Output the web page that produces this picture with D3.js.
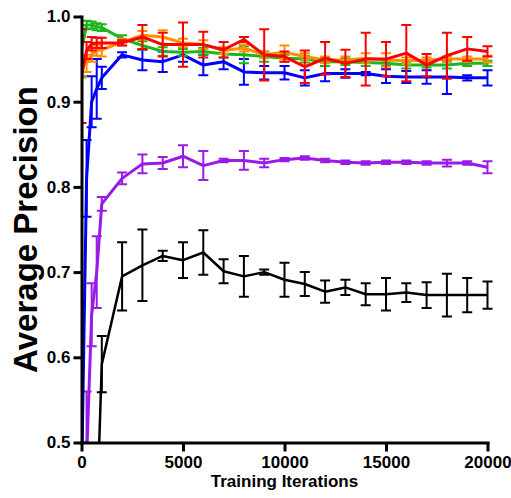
<!DOCTYPE html>
<html>
<head>
<meta charset="utf-8">
<script src="https://cdnjs.cloudflare.com/ajax/libs/d3/7.8.5/d3.min.js"></script>
<style>
    body { margin: 0; background: #fff; }
    .axis path, .axis line { stroke: #000; stroke-width: 3px; }
    .axis text { font-family: "Liberation Sans", Arial, sans-serif; font-weight: bold; font-size: 17px; fill: #000; }
    .graphLabels { font-family: "Liberation Sans", Arial, sans-serif; font-weight: bold; fill: #000; }
</style>
</head>
<body>
<div id="chart-area"></div>
<script>

// training iterations where AP was measured
var iterations = [0, 250, 500, 750, 1000, 2000, 3000, 4000, 5000, 6000, 7000, 8000, 9000, 10000,
    11000, 12000, 13000, 14000, 15000, 16000, 17000, 18000, 19000, 20000];

var yTicks = [0.5, 0.6, 0.7, 0.8, 0.9, 1.0];
var xTicks = [0, 5000, 10000, 15000, 20000];

// mean average precision and error bar half-width, one pair per model
var blackMean = [0.30, 0.30, 0.35, 0.41, 0.592, 0.695, 0.708, 0.719, 0.714, 0.723, 0.701, 0.695, 0.700, 0.691,
    0.686, 0.677, 0.682, 0.674, 0.674, 0.676, 0.673, 0.673, 0.673, 0.673];
var blackErr = [0.03, 0.03, 0.03, 0.03, 0.033, 0.040, 0.042, 0.006, 0.021, 0.026, 0.014, 0.024, 0.003, 0.020,
    0.014, 0.013, 0.009, 0.013, 0.019, 0.011, 0.015, 0.025, 0.020, 0.016];

var purpleMean = [0.35, 0.48, 0.65, 0.70, 0.780, 0.810, 0.827, 0.828, 0.836, 0.825, 0.831, 0.831, 0.828, 0.832,
    0.834, 0.831, 0.829, 0.828, 0.829, 0.829, 0.828, 0.828, 0.828, 0.823];
var purpleErr = [0.03, 0.08, 0.037, 0.042, 0.008, 0.007, 0.011, 0.007, 0.013, 0.017, 0.002, 0.011, 0.005, 0.002,
    0.002, 0.002, 0.002, 0.002, 0.002, 0.002, 0.002, 0.004, 0.002, 0.007];

var blueMean = [0.45, 0.81, 0.90, 0.915, 0.928, 0.955, 0.949, 0.947, 0.955, 0.943, 0.947, 0.935, 0.934, 0.934,
    0.928, 0.933, 0.933, 0.933, 0.930, 0.929, 0.929, 0.929, 0.928, 0.928];
var blueErr = [0.05, 0.045, 0.03, 0.035, 0.013, 0.003, 0.012, 0.012, 0.008, 0.012, 0.009, 0.015, 0.008, 0.008,
    0.009, 0.009, 0.005, 0.002, 0.008, 0.007, 0.008, 0.020, 0.003, 0.009];

var greenMean = [0.96, 0.99, 0.99, 0.988, 0.987, 0.974, 0.966, 0.959, 0.958, 0.959, 0.956, 0.955, 0.953, 0.951,
    0.950, 0.947, 0.947, 0.946, 0.945, 0.943, 0.943, 0.943, 0.945, 0.945];
var greenErr = [0.03, 0.005, 0.004, 0.004, 0.004, 0.004, 0.005, 0.005, 0.004, 0.004, 0.004, 0.010, 0.006, 0.004,
    0.004, 0.005, 0.004, 0.004, 0.003, 0.004, 0.003, 0.004, 0.003, 0.003];

var orangeMean = [0.94, 0.945, 0.955, 0.960, 0.961, 0.970, 0.978, 0.976, 0.969, 0.967, 0.960, 0.963, 0.955, 0.958,
    0.953, 0.949, 0.949, 0.951, 0.949, 0.948, 0.949, 0.950, 0.950, 0.950];
var orangeErr = [0.012, 0.01, 0.008, 0.006, 0.008, 0.004, 0.005, 0.008, 0.005, 0.005, 0.004, 0.004, 0.004, 0.008,
    0.004, 0.004, 0.004, 0.006, 0.008, 0.004, 0.003, 0.003, 0.003, 0.004];

var redMean = [0.93, 0.96, 0.968, 0.969, 0.969, 0.969, 0.976, 0.967, 0.967, 0.967, 0.961, 0.973, 0.955, 0.953,
    0.941, 0.951, 0.945, 0.950, 0.950, 0.957, 0.943, 0.954, 0.962, 0.959];
var redErr = [0.055, 0.01, 0.008, 0.006, 0.006, 0.003, 0.014, 0.014, 0.026, 0.015, 0.009, 0.003, 0.030, 0.006,
    0.019, 0.019, 0.016, 0.031, 0.020, 0.033, 0.013, 0.027, 0.014, 0.006];


/*
 * TrainingVis - Object constructor function
 * @param _parentElement 	-- the HTML element in which to draw the visualization
 */

TrainingVis = function(_parentElement){
    this.parentElement = _parentElement;
    this.series = [
        {name: "black", color: "#000000", width: 2.5, mean: blackMean, err: blackErr},
        {name: "purple", color: "#9A1AE8", width: 3, mean: purpleMean, err: purpleErr},
        {name: "blue", color: "#0000FF", width: 3, mean: blueMean, err: blueErr},
        {name: "green", color: "#1DB41D", width: 3, mean: greenMean, err: greenErr},
        {name: "orange", color: "#FF8F00", width: 3, mean: orangeMean, err: orangeErr},
        {name: "red", color: "#FF0000", width: 3, mean: redMean, err: redErr}
    ];
    this.initVis();
}

TrainingVis.prototype.initVis = function(){
    var vis = this;

    vis.margin = { top: 16.5, right: 23.5, bottom: 55.5, left: 81.5 };
    vis.width = 511 - vis.margin.left - vis.margin.right;
    vis.height = 498 - vis.margin.top - vis.margin.bottom;

    vis.svg = d3.select("#" + vis.parentElement).append("svg")
        .attr("width", 511)
        .attr("height", 498)
        .append("g")
        .attr("transform", "translate(" + vis.margin.left + "," + vis.margin.top + ")");

    vis.x = d3.scaleLinear()
        .domain([0, 20000])
        .range([0, vis.width]);

    vis.y = d3.scaleLinear()
        .domain([0.5, 1.0])
        .range([vis.height, 0]);

    vis.svg.append("clipPath")
        .attr("id", "plot-clip")
        .append("rect")
        .attr("x", 0)
        .attr("y", -10)
        .attr("width", vis.width + 10)
        .attr("height", vis.height + 10);

    vis.plot = vis.svg.append("g")
        .attr("clip-path", "url(#plot-clip)");

    vis.xAxis = d3.axisBottom(vis.x)
        .tickValues(xTicks)
        .tickSize(9)
        .tickSizeOuter(0)
        .tickPadding(4)
        .tickFormat(d3.format("d"));

    vis.yAxis = d3.axisLeft(vis.y)
        .tickValues(yTicks)
        .tickSize(8)
        .tickSizeOuter(0)
        .tickPadding(3)
        .tickFormat(d3.format(".1f"));

    // Axis titles
    vis.svg.append("text")
        .attr("class", "graphLabels")
        .attr("x", vis.width / 2)
        .attr("y", vis.height + 44)
        .attr("text-anchor", "middle")
        .style("font-size", "17px")
        .text("Training Iterations");

    vis.svg.append("text")
        .attr("class", "graphLabels")
        .attr("transform", "translate(" + (37 - vis.margin.left) + "," + (vis.height / 2) + ") rotate(-90)")
        .attr("text-anchor", "middle")
        .style("font-size", "33px")
        .text("Average Precision");

    vis.wrangleData();
}

TrainingVis.prototype.wrangleData = function(){
    var vis = this;

    vis.displayData = vis.series.map(function(s){
        return {
            name: s.name,
            color: s.color,
            width: s.width,
            values: iterations.map(function(it, i){
                return {it: it, mean: s.mean[i], err: s.err[i]};
            })
        };
    });

    vis.updateVis();
}

TrainingVis.prototype.updateVis = function(){
    var vis = this;

    var line = d3.line()
        .x(d => vis.x(d.it))
        .y(d => vis.y(d.mean));

    var groups = vis.plot.selectAll(".series")
        .data(vis.displayData)
        .enter().append("g")
        .attr("class", "series");

    groups.append("path")
        .attr("fill", "none")
        .attr("stroke", d => d.color)
        .attr("stroke-width", d => d.width)
        .attr("stroke-linejoin", "round")
        .attr("d", d => line(d.values));

    // error bars with caps
    var bars = groups.selectAll(".errbar")
        .data(d => d.values.map(v => Object.assign({color: d.color}, v)))
        .enter().append("g")
        .attr("class", "errbar")
        .attr("stroke", d => d.color)
        .attr("stroke-width", 2);

    bars.append("line")
        .attr("x1", d => vis.x(d.it))
        .attr("x2", d => vis.x(d.it))
        .attr("y1", d => vis.y(d.mean - d.err))
        .attr("y2", d => vis.y(d.mean + d.err));

    [1, -1].forEach(function(sign){
        bars.append("line")
            .attr("x1", d => vis.x(d.it) - 5)
            .attr("x2", d => vis.x(d.it) + 5)
            .attr("y1", d => vis.y(d.mean + sign * d.err))
            .attr("y2", d => vis.y(d.mean + sign * d.err));
    });

    vis.svg.append("g")
        .attr("class", "x-axis axis")
        .attr("transform", "translate(0," + vis.height + ")")
        .call(vis.xAxis);

    vis.svg.append("g")
        .attr("class", "y-axis axis")
        .call(vis.yAxis);

    vis.svg.selectAll(".axis .domain").attr("stroke-linecap", "square");
}

var trainingVis = new TrainingVis("chart-area");

</script>
</body>
</html>
